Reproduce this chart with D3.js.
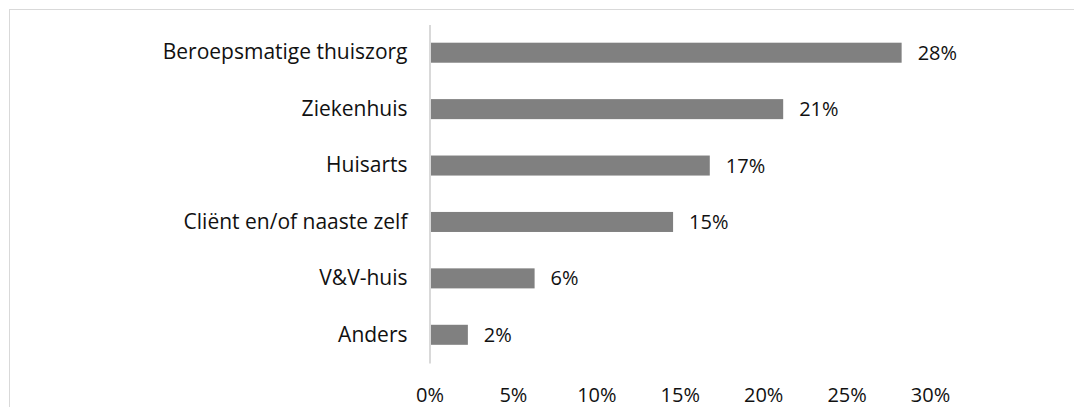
<!DOCTYPE html>
<html>
<head>
<meta charset="utf-8">
<script src="https://cdn.jsdelivr.net/npm/d3@7"></script>
<style>
  html, body { margin: 0; padding: 0; background: #fff; }
  svg { display: block; }
  text { font-family: "Open Sans", "Noto Sans", sans-serif; fill: #111; }
</style>
</head>
<body>
<svg id="chart" width="1074" height="407"></svg>
<script>
const categories = ["Beroepsmatige thuiszorg", "Ziekenhuis", "Huisarts", "Cliënt en/of naaste zelf", "V&V-huis", "Anders"];
const values = [0.283, 0.212, 0.168, 0.146, 0.063, 0.023];
const tickValues = [0, 0.05, 0.10, 0.15, 0.20, 0.25, 0.30];

const svg = d3.select("#chart");
const W = 1074, H = 407;
const catFontSize = 21;
const numFontSize = 20;

// outer frame (right and bottom edges lie outside the picture)
svg.append("rect")
  .attr("x", 9.5).attr("y", 9.5)
  .attr("width", W + 20).attr("height", H + 20)
  .attr("fill", "none").attr("stroke", "#d9d9d9").attr("stroke-width", 1);

const x = d3.scaleLinear().domain([0, 0.30]).range([429.5, 930]);
const y = d3.scaleBand().domain(categories).range([24.5, 363])
  .paddingInner(0.645).paddingOuter(0.3225);

// bars
svg.append("g").selectAll("rect")
  .data(categories)
  .join("rect")
  .attr("x", x(0))
  .attr("y", d => y(d))
  .attr("width", (d, i) => x(values[i]) - x(0))
  .attr("height", y.bandwidth())
  .attr("fill", "#808080");

// value labels
const fmt = d3.format(".0%");
svg.append("g").selectAll("text")
  .data(categories)
  .join("text")
  .attr("x", (d, i) => x(values[i]) + 16)
  .attr("y", d => y(d) + y.bandwidth() / 2)
  .attr("dy", "0.35em")
  .attr("font-size", numFontSize)
  .text((d, i) => fmt(values[i]));

// category axis (left)
const yAxis = svg.append("g")
  .attr("transform", `translate(${x(0)},0)`)
  .call(d3.axisLeft(y).tickSize(0).tickPadding(22));
yAxis.select(".domain").attr("stroke", "#d9d9d9").attr("stroke-width", 2);
yAxis.selectAll("text")
  .attr("font-size", catFontSize)
  .attr("font-family", '"Open Sans", "Noto Sans", sans-serif')
  .attr("fill", "#111");

// value axis (bottom), labels only
const xAxis = svg.append("g")
  .attr("transform", `translate(0,382)`)
  .call(d3.axisBottom(x).tickValues(tickValues).tickFormat(d3.format(".0%")).tickSize(0).tickPadding(6));
xAxis.select(".domain").remove();
xAxis.selectAll("text")
  .attr("font-size", numFontSize)
  .attr("font-family", '"Open Sans", "Noto Sans", sans-serif')
  .attr("fill", "#111");
</script>
</body>
</html>
